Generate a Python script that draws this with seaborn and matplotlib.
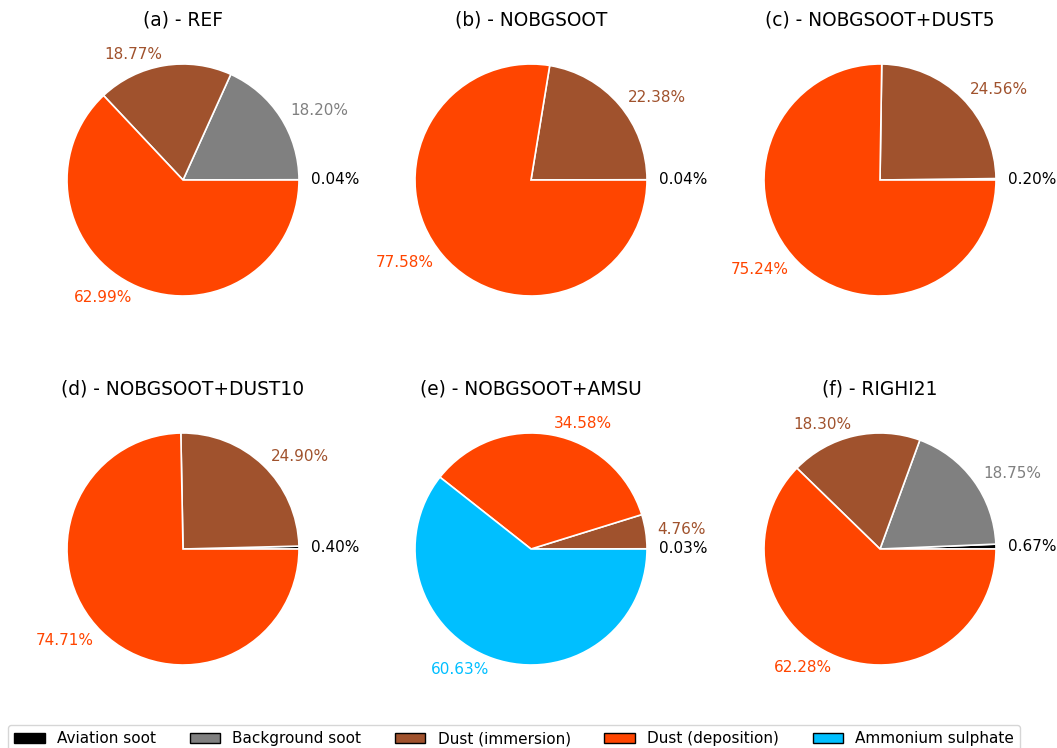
import matplotlib
matplotlib.use("Agg")
import matplotlib.pyplot as plt
import seaborn as sns
from matplotlib.patches import Patch

components = ['Aviation soot', 'Background soot', 'Dust (immersion)',
              'Dust (deposition)', 'Ammonium sulphate']
colors = ['black', 'grey', 'sienna', 'orangered', 'deepskyblue']

titles = ['(a) - REF', '(b) - NOBGSOOT', '(c) - NOBGSOOT+DUST5',
          '(d) - NOBGSOOT+DUST10', '(e) - NOBGSOOT+AMSU', '(f) - RIGHI21']

# shares (%) per experiment, in order of components
ref = [0.04, 18.20, 18.77, 62.99, 0.0]
nobgsoot = [0.04, 0.0, 22.38, 77.58, 0.0]
dust5 = [0.20, 0.0, 24.56, 75.24, 0.0]
dust10 = [0.40, 0.0, 24.90, 74.71, 0.0]
amsu = [0.03, 0.0, 4.76, 34.58, 60.63]
righi21 = [0.67, 18.75, 18.30, 62.28, 0.0]

experiments = [ref, nobgsoot, dust5, dust10, amsu, righi21]

sns.set_theme(style="white", rc={"text.color": "black"})
plt.rcParams['font.family'] = ['DejaVu Sans']

W, H = 1057, 748
fig = plt.figure(figsize=(W / 100, H / 100), dpi=100)

centers = [(183, 180), (531, 180), (880, 180),
           (183, 549), (531, 549), (880, 549)]
size = 290

for (cx, cy), title, vals in zip(centers, titles, experiments):
    ax = fig.add_axes([(cx - size / 2) / W, 1 - (cy + size / 2) / H,
                       size / W, size / H])
    keep = [i for i, v in enumerate(vals) if v > 0]
    v = [vals[i] for i in keep]
    c = [colors[i] for i in keep]
    labels = [f"{x:.2f}%" for x in v]
    wedges, texts = ax.pie(v, colors=c, labels=labels, labeldistance=1.1,
                           startangle=0, counterclock=True,
                           wedgeprops=dict(edgecolor='white', linewidth=1.2),
                           textprops=dict(fontsize=11))
    for t, col in zip(texts, c):
        t.set_color(col)
    ax.set_title(title, fontsize=13.4, pad=7, color='black')

handles = [Patch(facecolor=col, edgecolor='black', label=lab)
           for col, lab in zip(colors, components)]
leg = fig.legend(handles=handles, loc='lower left', ncol=5,
                 bbox_to_anchor=(8 / W, -0.006), fontsize=11, frameon=True,
                 handlelength=2.0, columnspacing=2.2, borderaxespad=0)
for t in leg.get_texts():
    t.set_color('black')

fig.savefig('out.png', dpi=100)
